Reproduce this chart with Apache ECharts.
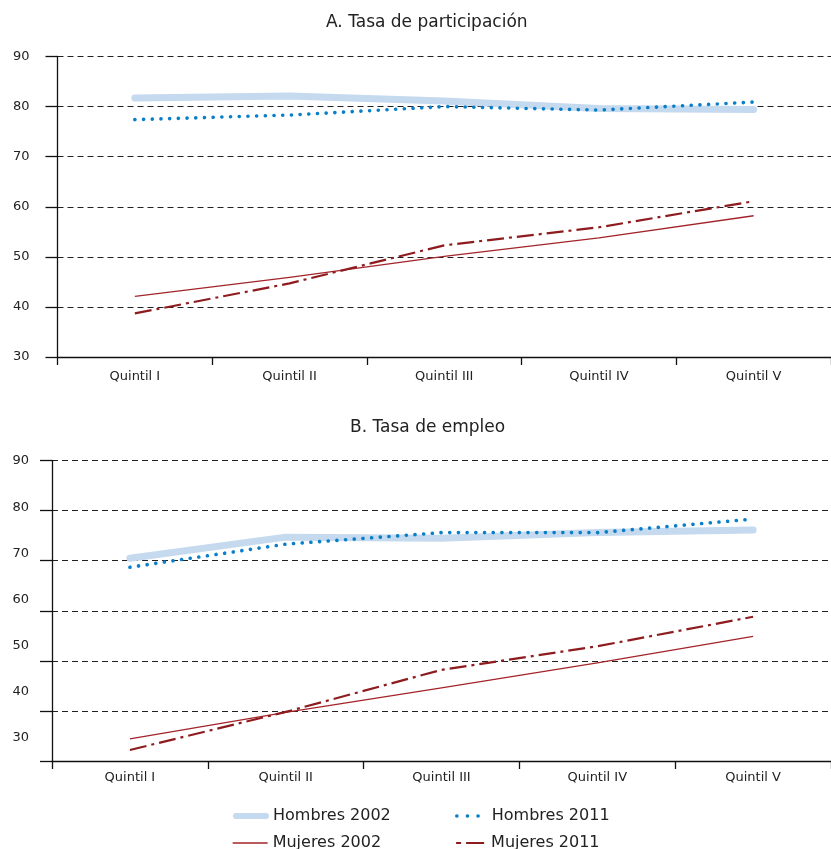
<!DOCTYPE html>
<html>
<head>
<meta charset="utf-8">
<script src="https://cdn.jsdelivr.net/npm/echarts@6/dist/echarts.min.js"></script>
<style>
html,body{margin:0;padding:0;background:#fff;}
#chart{width:831px;height:849px;}
</style>
</head>
<body>
<div id="chart"></div>
<script>
const categories = ['Quintil I', 'Quintil II', 'Quintil III', 'Quintil IV', 'Quintil V'];
const titleA = 'A. Tasa de participación';
const titleB = 'B. Tasa de empleo';
const yMin = 30, yMax = 90, yStep = 10;

// Panel A: Tasa de participación
const hombres2002A = [81.7, 82.1, 81.1, 79.6, 79.4];
const hombres2011A = [77.4, 78.3, 80.0, 79.3, 80.9];
const mujeres2002A = [42.1, 45.9, 50.1, 53.8, 58.2];
const mujeres2011A = [38.7, 44.7, 52.3, 55.9, 61.1];

// Panel B: Tasa de empleo
const hombres2002B = [70.5, 74.7, 74.5, 75.6, 76.1];
const hombres2011B = [68.7, 73.3, 75.6, 75.6, 78.3];
const mujeres2002B = [34.4, 39.7, 44.6, 49.6, 54.9];
const mujeres2011B = [32.2, 39.8, 48.2, 52.9, 58.8];

const FONT = 'DejaVu Sans';
const TXT = '#222';

const styles = {
  'Hombres 2002': {color: '#c5d9ef', width: 7, type: 'solid', cap: 'round', join: 'round'},
  'Hombres 2011': {color: '#0a7fc9', width: 3.6, type: [0.1, 8.6], cap: 'round', join: 'round'},
  'Mujeres 2002': {color: '#a3242a', width: 1.3, type: 'solid', cap: 'butt', join: 'round'},
  'Mujeres 2011': {color: '#8e1b1e', width: 2.2, type: [17, 5, 3, 5], cap: 'butt', join: 'round'}
};

function mkSeries(name, data, idx, z) {
  const s = styles[name];
  return {
    name: name, type: 'line', data: data, xAxisIndex: idx, yAxisIndex: idx,
    symbol: 'none', smooth: false, z: z,
    lineStyle: {color: s.color, width: s.width, type: s.type, cap: s.cap, join: s.join},
    itemStyle: {color: s.color},
    emphasis: {disabled: true}, animation: false
  };
}

function xAx(grid, margin) {
  return {
    type: 'category', gridIndex: grid, data: categories, boundaryGap: true,
    axisLine: {show: true, lineStyle: {color: '#111', width: 1.3}},
    axisTick: {show: true, length: 8, lineStyle: {color: '#111', width: 1.3}},
    axisLabel: {fontFamily: FONT, fontSize: 13, color: TXT, margin: margin},
    splitLine: {show: false}
  };
}
function yAx(grid, showLabels, margin) {
  return {
    type: 'value', gridIndex: grid, min: yMin, max: yMax, interval: yStep,
    axisLine: {show: true, lineStyle: {color: '#111', width: 1.3}},
    axisTick: {show: true, length: 12, inside: false, lineStyle: {color: '#111', width: 1.3}},
    axisLabel: {show: showLabels, fontFamily: FONT, fontSize: 13, color: TXT, margin: margin},
    splitLine: {show: true, lineStyle: {color: '#222', width: 1, type: [6, 4]}}
  };
}

function mkLegend(name, left, top, itemWidth, lineStyle, textPad) {
  return {
    left: left, top: top, orient: 'horizontal', itemWidth: itemWidth, itemHeight: 14,
    data: [name], selectedMode: false,
    itemStyle: {opacity: 0},
    lineStyle: lineStyle,
    textStyle: {fontFamily: FONT, fontSize: 16, color: TXT, padding: [0, 0, 0, textPad]}
  };
}

const option = {
  backgroundColor: '#fff',
  animation: false,
  title: [
    {text: titleA, left: 321, top: 9, textStyle: {fontFamily: FONT, fontSize: 17, fontWeight: 'normal', color: TXT}},
    {text: titleB, left: 345, top: 414, textStyle: {fontFamily: FONT, fontSize: 17, fontWeight: 'normal', color: TXT}}
  ],
  grid: [
    {left: 57.5, top: 56.5, width: 785, height: 300.5, containLabel: false},
    {left: 52, top: 460.5, width: 791, height: 300.5, containLabel: false},
    {left: 52, top: 461, width: 10, height: 277, containLabel: false}
  ],
  xAxis: [
    xAx(0, 13),
    xAx(1, 10.5),
    {type: 'category', gridIndex: 2, data: categories, show: false}
  ],
  yAxis: [
    yAx(0, true, 28),
    yAx(1, false, 23),
    {type: 'value', gridIndex: 2, min: yMin, max: yMax, interval: yStep,
     axisLine: {show: false}, axisTick: {show: false}, splitLine: {show: false},
     axisLabel: {show: true, fontFamily: FONT, fontSize: 13, color: TXT, margin: 23}}
  ],
  legend: [
    mkLegend('Hombres 2002', 228, 803, 30, {width: 6, type: 'solid', cap: 'round'}, 2),
    mkLegend('Mujeres 2002', 227, 830, 35, {width: 1.3, type: 'solid', cap: 'butt'}, 0),
    mkLegend('Hombres 2011', 450, 803, 30, {width: 3.6, type: [0.1, 10.5], cap: 'round'}, 0),
    mkLegend('Mujeres 2011', 450, 830, 30, {width: 2.2, type: [5, 5, 18, 5], cap: 'butt'}, 0)
  ],
  series: [
    mkSeries('Hombres 2002', hombres2002A, 0, 2),
    mkSeries('Hombres 2011', hombres2011A, 0, 3),
    mkSeries('Mujeres 2002', mujeres2002A, 0, 3),
    mkSeries('Mujeres 2011', mujeres2011A, 0, 4),
    mkSeries('Hombres 2002', hombres2002B, 1, 2),
    mkSeries('Hombres 2011', hombres2011B, 1, 3),
    mkSeries('Mujeres 2002', mujeres2002B, 1, 3),
    mkSeries('Mujeres 2011', mujeres2011B, 1, 4)
  ]
};

const chart = echarts.init(document.getElementById('chart'), null, {renderer: 'canvas'});
chart.setOption(option);
</script>
</body>
</html>
